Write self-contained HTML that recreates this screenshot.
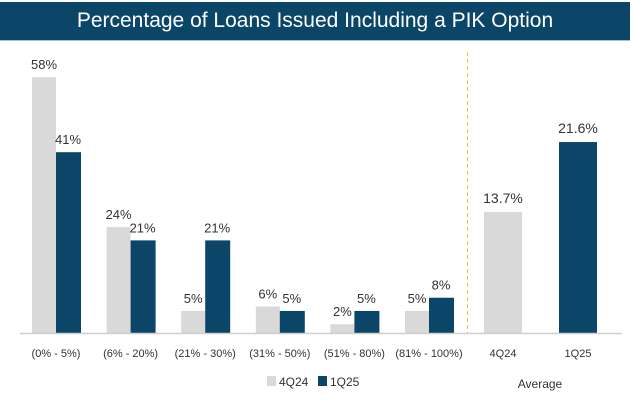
<!DOCTYPE html>
<html><head><meta charset="utf-8"><style>
body{margin:0;background:#fff;font-family:"Liberation Sans",sans-serif}
#wrap{position:relative;width:634px;height:404px;overflow:hidden}
#hdr{position:absolute;left:0;top:2px;width:630px;height:38px;background:#0b4668;border-bottom:1px solid #9fc3d6;color:#fff;font-size:21px;text-align:center;line-height:38px;font-weight:300}
svg{position:absolute;left:0;top:0}
text{font-family:"Liberation Sans",sans-serif;fill:#333}
</style></head><body>
<div id="wrap">
<div id="hdr">Percentage of Loans Issued Including a PIK Option</div>
<svg id="c" width="634" height="404"></svg>
</div>
<script>
const categories=["(0% - 5%)","(6% - 20%)","(21% - 30%)","(31% - 50%)","(51% - 80%)","(81% - 100%)"];
const s4Q24=[58,24,5,6,2,5];
const s1Q25=[41,21,21,5,5,8];
const avgCategories=["4Q24","1Q25"];
const avgValues=[13.7,21.6];
const avgLabels=["13.7%","21.6%"];
const svg=document.getElementById('c');
const NS='http://www.w3.org/2000/svg';
const base=333;
const y1=v=>base-v*4.41;
const y2=v=>base-v*8.84;
const gx=i=>32+i*74.6;
const LIGHT='#d9d9d9',DARK='#0b4668';
function mk(t,a){const e=document.createElementNS(NS,t);for(const k in a)e.setAttribute(k,a[k]);svg.appendChild(e);return e;}
function txt(x,y,s,size,anchor){const e=mk('text',{x:x,y:y,'font-size':size,'text-anchor':anchor||'middle'});e.textContent=s;return e;}
categories.forEach((c,i)=>{
  const x=gx(i);
  let r=mk('rect',{x:x,y:y1(s4Q24[i]),width:24,height:base-y1(s4Q24[i]),fill:LIGHT});
  
  
  r=mk('rect',{x:x+24,y:y1(s1Q25[i]),width:25,height:base-y1(s1Q25[i]),fill:DARK});
  
  
  let t=txt(x+12,y1(s4Q24[i])-8,s4Q24[i]+'%',13);
  
  
  t=txt(x+36,y1(s1Q25[i])-8,s1Q25[i]+'%',13);
  
  
  t=txt(x+24,357,c,11);
  
  
});
avgCategories.forEach((c,i)=>{
  const x=484+i*75;
  const r=mk('rect',{x:x,y:y2(avgValues[i]),width:38,height:base-y2(avgValues[i]),fill:i?DARK:LIGHT});
  
  
  let t=txt(x+19,y2(avgValues[i])-9,avgLabels[i],14);
  
  
  t=txt(x+19,357,c,11);
  
  
});
let l=mk('line',{x1:20,x2:622,y1:base+0.5,y2:base+0.5,stroke:'#d0d0d0','stroke-width':1.5});


l=mk('line',{x1:467.5,x2:467.5,y1:52,y2:base,stroke:'#f2c12e','stroke-width':1,'stroke-dasharray':'4,3'});


let r=mk('rect',{x:267,y:376,width:9,height:10,fill:LIGHT});


let t=txt(279,386,'4Q24',12,'start');


r=mk('rect',{x:318,y:376,width:9,height:10,fill:DARK});


t=txt(330,386,'1Q25',12,'start');


t=txt(540,388,'Average',12);


</script>
</body></html>
